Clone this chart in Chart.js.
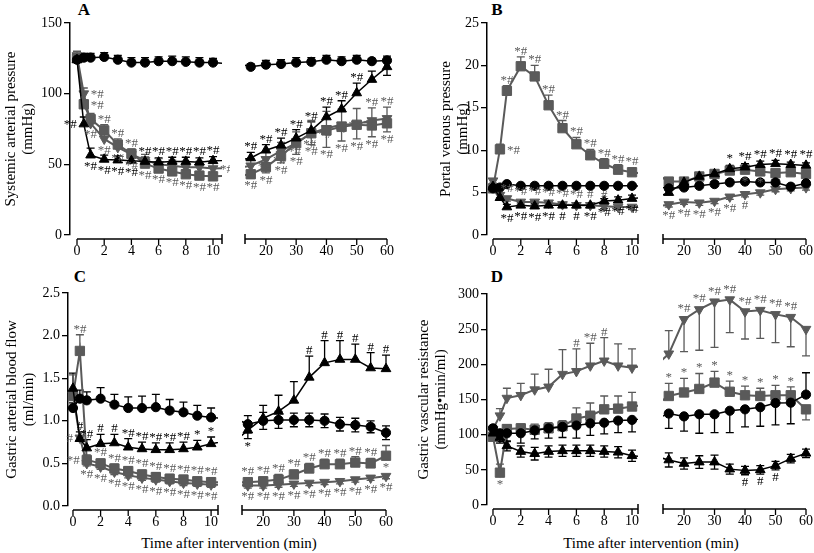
<!DOCTYPE html>
<html><head><meta charset="utf-8">
<script src="https://cdn.jsdelivr.net/npm/chart.js@4.4.1/dist/chart.umd.min.js"></script>
<style>
html,body{margin:0;padding:0;background:#fff;overflow:hidden;}
body{width:814px;height:553px;position:relative;font-family:"Liberation Serif","Tinos","Times New Roman","DejaVu Serif",serif;}
.t{position:absolute;transform:translate(-50%,-50%);white-space:nowrap;color:#000;}
.let{font-weight:bold;font-size:17px;}
.xt{font-size:15px;}
</style></head>
<body>
<div class="t let" style="left:84px;top:10px">A</div>
<div class="t let" style="left:497px;top:10px">B</div>
<div class="t let" style="left:80px;top:277px">C</div>
<div class="t let" style="left:497px;top:277px">D</div>
<div class="t xt" style="left:229px;top:543px">Time after intervention (min)</div>
<div class="t xt" style="left:651px;top:543px">Time after intervention (min)</div>
<script>
// ---------- time points (min) ----------
const T = [0,0.5,1,2,3,4,5,6,7,8,9,10,15,20,25,30,35,40,45,50,55,60];
const xTicksLeft = [0,2,4,6,8,10];
const xTicksRight = [20,30,40,50,60];
const yTicksA = [0,50,100,150];
const yTicksB = [0,5,10,15,20,25];
const yTicksC = [0,0.5,1,1.5,2,2.5];
const yTickLabelsC = ['0.0','0.5','1.0','1.5','2.0','2.5'];
const yTicksD = [0,50,100,150,200,250,300];

// ---------- Panel A: systemic arterial pressure ----------
const A_circ = [124,125.5,125.5,126,124,122,122,123,123,122.5,122,122,119,120.5,121,122,122.5,124,123,124,123,123.5];
const A_circ_err = [4,3,3,3,3,3.5,3.5,3,3.5,3.5,3.5,3,2,3,3,3.5,3,3,3,3,2,3];
const A_tri = [124,78.5,56.5,53.5,53,52.5,52,51.5,52,52,51.5,52.5,54.5,60,63.5,68.5,74,83.5,89,100.5,110,119];
const A_tri_err = [3,5,5,3,3,3,3,3,3,3,3,3,4,4,5,6,6,7,6,7,6,6];
const A_sq = [125,92.5,82,74,64,57.5,50.5,47,45,43,42,41.5,43,48,56,65,72,74,76.5,78,77.5,79];
const A_sq_err = [3,3,4,4,4,3,3,3,3,3,3,3,3,4,5,8,8,12,10,10,8,6];
const A_inv = [127,100,79,68,62,57,53,50,49,48,48,47,49,53.5,59.5,65,72,75.5,78,78.5,81,82.5];
const A_inv_err = [3,4,4,4,4,4,4,4,4,4,4,4,4,5,6,8,9,12,11,11,9,8];
const A_tri_sig = ['','*#','*#','*#','*#','*#','*#','*#','*#','*#','*#','*#','*#','*#','*#','*#','*#','*#','*#','*#','',''];
const A_sq_sig = ['','*#','','*#','*#','*#','*#','*#','*#','*#','*#','*#','*#','*#','*#','*#','*#','*#','*#','*#','*#','*#'];
const A_inv_sig = ['','*#','*#','*#','*#','*#','','','','','','*#','*#','*#','*#','*#','*#','*#','*#','*#','*#','*#'];

// ---------- Panel B: portal venous pressure ----------
const B_circ = [5.5,5.6,6.0,5.8,5.8,5.8,5.8,5.8,5.8,5.8,5.8,5.8,5.5,5.6,5.8,6.0,6.2,6.3,6.2,6.2,5.7,6.1];
const B_circ_err = [0.2,0.2,0.2,0.2,0.2,0.2,0.2,0.2,0.2,0.2,0.2,0.2,0.3,0.3,0.3,0.3,0.3,0.3,0.3,0.3,0.3,0.3];
const B_tri = [5.7,4.4,3.3,3.5,3.4,3.5,3.5,3.5,3.5,4.0,4.1,4.3,5.0,6.2,6.9,7.2,7.8,8.0,8.3,8.4,8.3,8.2];
const B_tri_err = [0.3,0.4,0.3,0.3,0.3,0.3,0.3,0.3,0.3,0.3,0.4,0.4,0.3,0.3,0.3,0.3,0.4,0.4,0.4,0.4,0.3,0.3];
const B_sq = [5.5,10.1,17.0,19.9,18.7,15.3,12.6,10.7,9.4,8.4,7.7,7.4,6.3,6.3,6.9,7.2,7.6,7.7,7.5,7.3,7.4,7.2];
const B_sq_err = [0.3,0.6,0.6,1.1,1.3,1.2,0.9,0.8,0.7,0.6,0.6,0.5,0.3,0.3,0.3,0.3,0.4,0.4,0.4,0.4,0.3,0.3];
const B_inv = [6.4,4.7,4.3,3.9,3.9,3.8,3.6,3.5,3.5,3.4,3.3,3.3,3.6,3.9,3.8,4.0,4.5,4.8,5.0,5.4,5.5,5.6];
const B_inv_err = [0.3,0.3,0.3,0.3,0.3,0.3,0.3,0.3,0.3,0.3,0.3,0.3,0.3,0.3,0.3,0.3,0.3,0.3,0.3,0.3,0.3,0.3];
const B_sq_sig = ['','*#','*#','*#','*#','*#','*#','*#','*#','*#','*#','*#','','','','','','*','*','','',''];
const B_inv_sig = ['','','*#','*#','*#','*#','*#','*#','#','#','','','*#','*#','*#','*#','*#','#','','','',''];
const B_tri_sig = ['','','*#','*#','*#','*#','#','#','*#','*#','*#','*#','','','','','*','*#','*#','*#','*#','*#'];

// ---------- Panel C: gastric arterial blood flow ----------
const C_circ = [1.15,1.26,1.24,1.26,1.19,1.15,1.15,1.16,1.12,1.10,1.06,1.04,0.96,1.00,1.01,1.01,1.01,1.00,0.96,0.95,0.93,0.86];
const C_circ_err = [0.06,0.1,0.1,0.13,0.12,0.13,0.14,0.15,0.13,0.12,0.12,0.11,0.1,0.1,0.1,0.08,0.08,0.08,0.08,0.08,0.07,0.08];
const C_tri = [1.38,0.79,0.68,0.73,0.74,0.69,0.67,0.66,0.66,0.67,0.69,0.73,0.89,1.03,1.11,1.24,1.51,1.68,1.72,1.72,1.62,1.61];
const C_tri_err = [0.18,0.08,0.1,0.11,0.1,0.1,0.08,0.08,0.08,0.08,0.08,0.08,0.1,0.15,0.19,0.22,0.25,0.26,0.22,0.18,0.18,0.16];
const C_sq = [1.29,1.82,0.54,0.5,0.44,0.41,0.37,0.34,0.32,0.31,0.29,0.28,0.28,0.29,0.31,0.37,0.44,0.49,0.49,0.51,0.5,0.59];
const C_sq_err = [0.25,0.19,0.06,0.05,0.05,0.05,0.05,0.05,0.05,0.05,0.05,0.05,0.04,0.05,0.06,0.05,0.06,0.06,0.06,0.07,0.06,0.12];
const C_inv = [1.3,0.8,0.5,0.46,0.4,0.36,0.33,0.31,0.29,0.27,0.26,0.25,0.24,0.24,0.25,0.26,0.27,0.28,0.29,0.31,0.33,0.35];
const C_inv_err = [0.03,0.03,0.03,0.03,0.03,0.03,0.03,0.03,0.03,0.03,0.03,0.03,0.03,0.03,0.03,0.03,0.03,0.03,0.03,0.03,0.03,0.03];
const C_sq_sig = ['','*#','*#','*#','*#','*#','*#','*#','*#','*#','*#','*#','*#','*#','*#','*#','*#','*#','*#','*#','*#','*'];
const C_tri_sig = ['','#','*#','#','#','*#','*#','*#','*#','*#','*','*','*','','','','#','#','#','#','#','#'];
const C_inv_sig = ['','#','*#','*#','*#','*#','*#','*#','*#','*#','*#','*#','*#','*#','*#','*#','*#','*#','*#','*#','*#','*#'];

// ---------- Panel D: gastric vascular resistance ----------
const D_circ = [109,102,102,102,106,109,111,113,116,117,120,121,130,126,129,129,134,136,139,145,145.5,157];
const D_circ_err = [8,12,12,14,12,14,15,18,17,16,17,17,21,21,27,26,31,25,27,31,30,31];
const D_tri = [102,96,84,76,73,76,77,77,77,76,75,70,64,59,61,61,51,49,50,56,66,73.5];
const D_tri_err = [8,8,7,8,9,8,8,8,8,8,8,8,10,8,9,10,7,6,6,6,6,6];
const D_sq = [97,46,108,109,107,109,112,123,127,136,137,140,155,160,165,174,161,156,155,156,156,136];
const D_sq_err = [12,12,6,6,8,8,8,15,18,19,18,20,18,20,22,16,15,13,11,14,12,15];
const D_inv = [108,127,152,156,164,168,186,190,198,205,198,195,215,264,278,289,292,275,277,271,267,250];
const D_inv_err = [5,10,14,17,22,25,35,32,32,33,31,27,33,46,58,65,47,39,40,40,42,38];
const D_sq_sig = ['','*','','','','','','','','','','','*','*','*','*','*','*','*','*','*',''];
const D_inv_sig = ['','','','','','','','#','*#','#','','','','*#','*#','*#','*#','*#','*#','*#','*#',''];
const D_tri_sig = ['','','','','','','','','','','','','','','','','','#','#','#','',''];

// ---------- styling ----------
const FONT = '"Liberation Serif", "Tinos", "Times New Roman", "DejaVu Serif", serif';
const BLACK = '#000000', GRAY = '#5a5a5a';
const XH = 30;
const STYLE = {
  circ:{color:BLACK, ps:'circle', r:4.6, rot:0, bw:1.5},
  tri:{color:BLACK, ps:'triangle', r:5.6, rot:0, bw:1.5},
  sq:{color:GRAY, ps:'rect', r:6.6, rot:0, bw:2},
  inv:{color:GRAY, ps:'triangle', r:5.6, rot:180, bw:2}
};
const rep = (c,n) => c.repeat(n);

const PANELS = [
  {title:['Systemic arterial pressure','(mmHg)'], yMin:0, yMax:150, yTicks:yTicksA, yLab:null,
   top:23, bottom:235, canvasTop:0,
   L:{cx:1, l:70, r:222, xMin:-0.515, xMax:10.66},
   R:{cx:229, l:237, r:387, xMin:13.1, xMax:60, cw:185},
   series:[
     {k:'circ', v:A_circ, e:A_circ_err, dir:rep('u',22), sig:null, side:null},
     {k:'tri', v:A_tri, e:A_tri_err, dir:rep('u',21)+'d', sig:A_tri_sig, side:'xlbbbbaaaaaaaaaaaaaaxx'},
     {k:'sq', v:A_sq, e:A_sq_err, dir:rep('u',12)+rep('d',10), sig:A_sq_sig, side:'xrxaaabbbbbbbbbbbbbbbb'},
     {k:'inv', v:A_inv, e:A_inv_err, dir:rep('u',22), sig:A_inv_sig, side:'xrbbbbxxxxxrrrrrrrrraa'}
   ]},
  {title:['Portal venous pressure','(mmHg)'], yMin:0, yMax:25, yTicks:yTicksB, yLab:null,
   top:23, bottom:235, canvasTop:0,
   L:{cx:436, l:487, r:638, xMin:-0.43, xMax:10.43},
   R:{cx:647, l:655, r:806, xMin:13.1, xMax:60, cw:185},
   series:[
     {k:'circ', v:B_circ, e:B_circ_err, dir:rep('u',22), sig:null, side:null},
     {k:'tri', v:B_tri, e:B_tri_err, dir:rep('u',22), sig:B_tri_sig, side:'xxbbbbbbbbbbxxxxaaaaaa'},
     {k:'sq', v:B_sq, e:B_sq_err, dir:rep('u',22), sig:B_sq_sig, side:'xraaaaaaaaaaxxxxxbbxxx'},
     {k:'inv', v:B_inv, e:B_inv_err, dir:rep('d',22), sig:B_inv_sig, side:'xxaaaaaaaaxxbbbbbbxxxx'}
   ]},
  {title:['Gastric arterial blood flow','(ml/min)'], yMin:0, yMax:2.5, yTicks:yTicksC, yLab:yTickLabelsC,
   top:293, bottom:506, canvasTop:270,
   L:{cx:2, l:68, r:218, xMin:-0.36, xMax:10.5},
   R:{cx:226, l:234, r:386, xMin:13.1, xMax:60, cw:185},
   series:[
     {k:'circ', v:C_circ, e:C_circ_err, dir:rep('u',12)+rep('b',10), sig:null, side:null},
     {k:'tri', v:C_tri, e:C_tri_err, dir:rep('u',12)+'b'+rep('u',9), sig:C_tri_sig, side:'xaaaaaaaaaaabxxxaaaaaa'},
     {k:'sq', v:C_sq, e:C_sq_err, dir:rep('u',22), sig:C_sq_sig, side:'xalaaaaaaaaaaaaaaaaaab'},
     {k:'inv', v:C_inv, e:C_inv_err, dir:rep('d',22), sig:C_inv_sig, side:'xlbbbbbbbbbbbbbbbbbbbb'}
   ]},
  {title:['Gastric vascular resistance','(mmHg\u2022min/ml)'], yMin:0, yMax:300, yTicks:yTicksD, yLab:null,
   top:294, bottom:505, canvasTop:270,
   L:{cx:414, l:487, r:638, xMin:-0.43, xMax:10.43},
   R:{cx:647, l:655, r:806, xMin:13.1, xMax:60, cw:185},
   series:[
     {k:'circ', v:D_circ, e:D_circ_err, dir:rep('d',21)+'u', sig:null, side:null},
     {k:'tri', v:D_tri, e:D_tri_err, dir:rep('b',22), sig:D_tri_sig, side:'xxxxxxxxxxxxxxxxxbbbxx'},
     {k:'sq', v:D_sq, e:D_sq_err, dir:rep('u',21)+'d', sig:D_sq_sig, side:'xbxxxxxxxxxxaaaaaaaaax'},
     {k:'inv', v:D_inv, e:D_inv_err, dir:rep('u',13)+rep('d',9), sig:D_inv_sig, side:'xxxxxxxaaaxxxaaaaaaaax'}
   ]}
];

// ---------- plugins ----------
const inRange = (sc, v) => v >= sc.min && v <= sc.max;

const errPlugin = {
  id:'errbars',
  beforeDatasetsDraw(chart){
    const {ctx, scales:{x,y}} = chart;
    chart.data.datasets.forEach(ds => {
      ctx.save();
      ctx.strokeStyle = ds.borderColor; ctx.lineWidth = 1.3;
      ds.data.forEach((pt,j) => {
        const e = ds.err ? ds.err[j] : 0;
        if (!e || !inRange(x, pt.x)) return;
        const d = ds.dir[j];
        const px = x.getPixelForValue(pt.x), py = y.getPixelForValue(pt.y);
        const bar = v => {
          const yy = y.getPixelForValue(v);
          ctx.beginPath(); ctx.moveTo(px,py); ctx.lineTo(px,yy);
          ctx.moveTo(px-4,yy); ctx.lineTo(px+4,yy); ctx.stroke();
        };
        if (d==='u'||d==='b') bar(pt.y+e);
        if (d==='d'||d==='b') bar(pt.y-e);
      });
      ctx.restore();
    });
  }
};

const sigPlugin = {
  id:'sig',
  afterDatasetsDraw(chart){
    const {ctx, scales:{x,y}} = chart;
    ctx.save();
    ctx.font = '13px ' + FONT;
    chart.data.datasets.forEach(ds => {
      if (!ds.sig) return;
      ctx.fillStyle = ds.borderColor;
      ds.data.forEach((pt,j) => {
        const s = ds.sig[j], side = ds.side[j];
        if (!s || side==='x' || !inRange(x, pt.x)) return;
        const px = x.getPixelForValue(pt.x), py = y.getPixelForValue(pt.y);
        const d = ds.dir[j], e = ds.err[j] || 0;
        if (side==='a'){
          const top = (d==='u'||d==='b') ? y.getPixelForValue(pt.y+e) - 2 : py - 7;
          ctx.textAlign='center'; ctx.textBaseline='alphabetic';
          ctx.fillText(s, px, Math.min(top, py-7));
        } else if (side==='b'){
          const bot = (d==='d'||d==='b') ? y.getPixelForValue(pt.y-e) + 1 : py + 5;
          ctx.textAlign='center'; ctx.textBaseline='top';
          ctx.fillText(s, px, Math.max(bot, py+5));
        } else if (side==='l'){
          ctx.textAlign='right'; ctx.textBaseline='middle';
          ctx.fillText(s, px-7, py+1);
        } else if (side==='r'){
          ctx.textAlign='left'; ctx.textBaseline='middle';
          ctx.fillText(s, px+7, py+1);
        }
      });
    });
    ctx.restore();
  }
};

const axisPlugin = {
  id:'prismAxis',
  afterDraw(chart, args, opts){
    const {ctx, chartArea, scales:{x}} = chart;
    const yy = chartArea.bottom + 4;
    const first = x.ticks[0].value, last = x.ticks[x.ticks.length-1].value;
    const x0 = opts.isLeft ? x.getPixelForValue(first) : chartArea.left;
    const x1 = opts.isLeft ? chartArea.right : x.getPixelForValue(last);
    ctx.save();
    ctx.strokeStyle = '#000'; ctx.lineWidth = 1.5;
    ctx.beginPath(); ctx.moveTo(x0,yy); ctx.lineTo(x1,yy); ctx.stroke();
    ctx.lineWidth = 1.3;
    x.ticks.forEach(t => {
      const px = x.getPixelForValue(t.value);
      ctx.beginPath(); ctx.moveTo(px,yy); ctx.lineTo(px,yy+6); ctx.stroke();
    });
    const bx = opts.isLeft ? x1 : x0;
    ctx.lineWidth = 1.5;
    ctx.beginPath(); ctx.moveTo(bx,yy-5); ctx.lineTo(bx,yy+5); ctx.stroke();
    ctx.restore();
  }
};

function makeDatasets(p, isLeft){
  return p.series.map(s => {
    const st = STYLE[s.k];
    return {
      data: T.map((t,i) => ({x:t, y:s.v[i]})),
      borderColor: st.color, backgroundColor: st.color,
      borderWidth: st.bw, tension: 0,
      pointStyle: st.ps, pointRadius: st.r, pointHoverRadius: st.r, pointRotation: st.rot,
      pointBorderWidth: 1, pointBackgroundColor: st.color, pointBorderColor: st.color,
      clip: isLeft ? {left:false, right:0, top:false, bottom:false} : {left:0, right:12, top:false, bottom:false},
      err: s.e, dir: s.dir, sig: s.sig, side: s.side
    };
  });
}

function addChart(p, isLeft){
  const sub = isLeft ? p.L : p.R;
  const cx = sub.cx, cy = p.canvasTop;
  const w = isLeft ? (sub.r + 8 - cx) : sub.cw;
  const h = p.bottom + XH - cy;
  const cv = document.createElement('canvas');
  cv.width = w; cv.height = h;
  cv.style.cssText = `position:absolute;left:${cx}px;top:${cy}px;width:${w}px;height:${h}px;`;
  document.body.appendChild(cv);
  const yw = sub.l - cx;
  new Chart(cv, {
    type:'line',
    data:{datasets: makeDatasets(p, isLeft)},
    options:{
      responsive:false, maintainAspectRatio:false, animation:false, devicePixelRatio:1, events:[],
      layout:{padding:{left: isLeft ? 0 : (sub.l - cx), right: cx + w - sub.r, top: p.top - cy, bottom: 0}},
      plugins:{legend:{display:false}, tooltip:{enabled:false}, prismAxis:{isLeft}},
      scales:{
        x:{type:'linear', position:'bottom', min:sub.xMin, max:sub.xMax,
           afterBuildTicks: s => { s.ticks = (isLeft ? xTicksLeft : xTicksRight).map(v => ({value:v})); },
           afterFit: s => { s.height = XH; },
           grid:{display:true, drawOnChartArea:false, drawTicks:true, tickLength:6, color:'rgba(0,0,0,0)'},
           border:{display:false},
           ticks:{font:{family:FONT, size:14}, color:'#000', padding:2, maxRotation:0, autoSkip:false}},
        y:{type:'linear', display:isLeft, min:p.yMin, max:p.yMax,
           afterBuildTicks: s => { s.ticks = p.yTicks.map(v => ({value:v})); },
           afterFit: s => { s.width = yw; },
           grid:{display:true, drawOnChartArea:false, drawTicks:true, tickLength:6, color:'#000', lineWidth:1.3},
           border:{display:true, color:'#000', width:1.5},
           ticks:{font:{family:FONT, size:14}, color:'#000', padding:2,
                  callback: v => p.yLab ? p.yLab[p.yTicks.indexOf(v)] : String(v)},
           title:{display:true, text:p.title, color:'#000',
                  font:{family:FONT, size:15, lineHeight:'17px'}, padding:{top:1.5, bottom:0}}}
      }
    },
    plugins:[errPlugin, sigPlugin, axisPlugin]
  });
}

PANELS.forEach(p => { addChart(p, true); addChart(p, false); });
</script>
</body></html>
